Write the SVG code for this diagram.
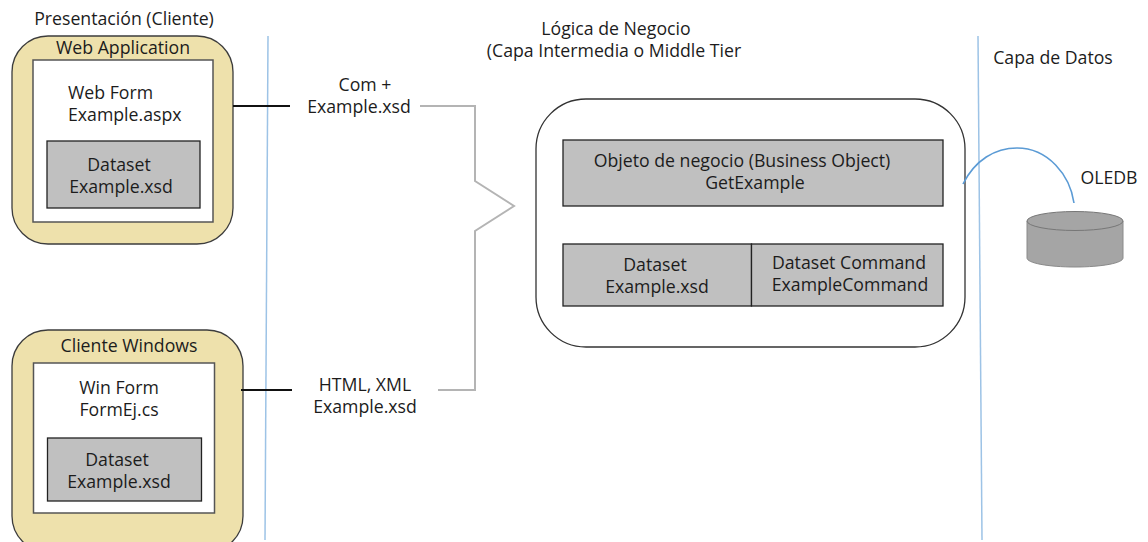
<svg xmlns="http://www.w3.org/2000/svg" width="1148" height="542" viewBox="0 0 1148 542">
<style>
text{font-family:"Open Sans","Noto Sans","Liberation Sans",sans-serif;font-size:17.7px;fill:#1c1c1c}
.m{text-anchor:middle}
.tan{fill:#eee1ac;stroke:#3c3c3c;stroke-width:1.3}
.white{fill:#fff;stroke:#555;stroke-width:1.5}
.gray{fill:#c0c0c0;stroke:#222;stroke-width:1.3}
.blue{fill:none;stroke:#9dc3e6;stroke-width:1.5}
.black{fill:none;stroke:#111;stroke-width:2}
.bracket{fill:none;stroke:#b4b4b4;stroke-width:2}
</style>
<rect width="1148" height="542" fill="#fff"/>
<g id="labels">
<text x="124" y="25" class="m">Presentación (Cliente)</text>
<text x="616" y="35" class="m">Lógica de Negocio</text>
<text x="614" y="57" class="m">(Capa Intermedia o Middle Tier</text>
<text x="1053" y="64" class="m">Capa de Datos</text>
<text x="1109" y="184" class="m">OLEDB</text>
<text x="365" y="91" class="m">Com +</text>
<text x="359" y="113" class="m">Example.xsd</text>
<text x="365" y="391" class="m">HTML, XML</text>
<text x="365" y="413" class="m">Example.xsd</text>
</g>
<g id="web-application">
<rect class="tan" x="12" y="36" width="221" height="208" rx="36"/>
<text x="123" y="54" class="m">Web Application</text>
<rect class="white" x="33" y="60" width="180" height="162"/>
<text x="68" y="99">Web Form</text>
<text x="68" y="121">Example.aspx</text>
<rect class="gray" x="47" y="141" width="153" height="67"/>
<text x="119" y="171" class="m">Dataset</text>
<text x="121" y="193" class="m">Example.xsd</text>
</g>
<g id="cliente-windows">
<rect class="tan" x="12" y="330" width="231" height="222" rx="36"/>
<text x="129" y="352" class="m">Cliente Windows</text>
<rect class="white" x="33.500" y="363" width="181" height="150"/>
<text x="119" y="394" class="m">Win Form</text>
<text x="119" y="416" class="m">FormEj.cs</text>
<rect class="gray" x="47.500" y="438" width="154" height="63"/>
<text x="117" y="466" class="m">Dataset</text>
<text x="119" y="488" class="m">Example.xsd</text>
</g>
<g id="middle-tier">
<rect fill="#fff" stroke="#333" stroke-width="1.3" x="536" y="99" width="429" height="248" rx="50"/>
</g>
<g id="business-object">
<rect class="gray" x="563" y="140" width="380" height="66"/>
<text x="742" y="167" class="m">Objeto de negocio (Business Object)</text>
<text x="755" y="189" class="m">GetExample</text>
</g>
<g id="dataset">
<rect class="gray" x="563" y="244" width="188.500" height="62"/>
<text x="655" y="271" class="m">Dataset</text>
<text x="657" y="293" class="m">Example.xsd</text>
</g>
<g id="dataset-command">
<rect class="gray" x="751.500" y="244" width="191.500" height="62"/>
<text x="849" y="269" class="m">Dataset Command</text>
<text x="850" y="291" class="m">ExampleCommand</text>
</g>
<g id="database">
<path fill="#a5a5a5" stroke="#8a8a8a" d="M1027 221V258C1027 263 1048 267 1075 267C1102 267 1123 263 1123 258V221Z"/>
<ellipse fill="#a5a5a5" stroke="#777" cx="1075" cy="221" rx="48" ry="9.500"/>
</g>
<g id="connectors">
<path class="blue" d="M268 36L265 540"/>
<path class="blue" d="M978 36L982 540"/>
<path class="black" d="M233 106H290"/>
<path class="black" d="M241 390H292"/>
<path class="bracket" d="M420 106H475V181L514 206L475 231V390H438"/>
<path fill="none" stroke="#5b9bd5" stroke-width="1.6" d="M963 184C975 160 995 148 1017 148C1048 148 1070 175 1074 203"/>
</g>
</svg>
